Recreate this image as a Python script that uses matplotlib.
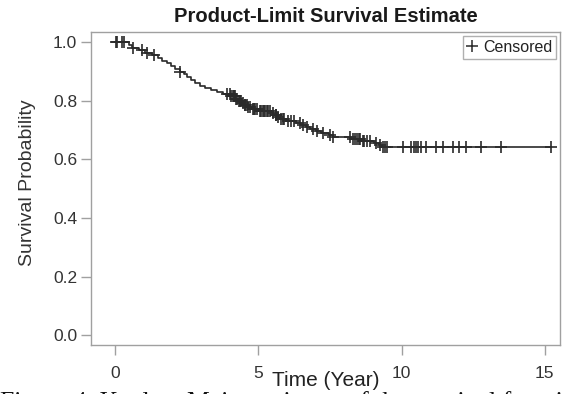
import numpy as np
import matplotlib
matplotlib.use("Agg")
import matplotlib.pyplot as plt
from matplotlib.lines import Line2D

plt.rcParams['font.family'] = ['Liberation Sans', 'DejaVu Sans']

# event times (years) and survival estimate after each event
event_t = [0.50, 0.60, 0.85, 1.05, 1.30, 1.50, 1.65, 1.80, 1.95, 2.10,
           2.25, 2.40, 2.50, 2.65, 2.80, 2.95, 3.15, 3.35, 3.55, 3.75,
           4.05, 4.20, 4.30, 4.40, 4.50, 4.62, 4.75, 5.00, 5.45, 5.55,
           5.65, 5.75, 5.95, 6.30, 6.50, 6.65, 6.80, 7.00, 7.20, 7.45,
           7.60, 8.25, 8.60, 9.05, 9.20, 9.30]
event_s = [0.990, 0.980, 0.972, 0.963, 0.955, 0.946, 0.937, 0.928, 0.918, 0.909,
           0.900, 0.890, 0.880, 0.870, 0.860, 0.852, 0.845, 0.838, 0.830, 0.822,
           0.815, 0.808, 0.800, 0.793, 0.786, 0.779, 0.772, 0.766, 0.759, 0.752,
           0.745, 0.738, 0.731, 0.724, 0.717, 0.710, 0.703, 0.696, 0.689, 0.682,
           0.676, 0.670, 0.664, 0.657, 0.650, 0.644]

# censored times (years)
censor_t = [0.02, 0.08, 0.25, 0.30, 0.62, 0.93, 1.10, 1.36, 2.27,
            3.90, 4.00, 4.05, 4.10, 4.15, 4.18, 4.22, 4.25, 4.32, 4.35, 4.38,
            4.45, 4.52, 4.55, 4.60, 4.65, 4.70, 4.80, 4.85, 4.90, 4.95,
            5.05, 5.10, 5.15, 5.20, 5.25, 5.30, 5.35, 5.40, 5.50, 5.60,
            5.62, 5.70, 5.80, 5.85, 5.90, 6.05, 6.15, 6.25, 6.45, 6.55,
            6.69, 6.90, 7.04, 7.25, 7.49, 7.60, 8.19, 8.30, 8.36, 8.45,
            8.50, 8.55, 8.65, 8.70, 8.80, 8.90, 9.10, 9.25, 9.35, 9.42,
            9.49, 10.05, 10.34, 10.45, 10.51, 10.57, 10.69, 10.86, 11.21, 11.44,
            11.79, 12.02, 12.25, 12.78, 13.47, 15.23]

xticks = [0, 5, 10, 15]
yticks = [0.0, 0.2, 0.4, 0.6, 0.8, 1.0]

fig = plt.figure(figsize=(5.63, 3.94), dpi=100)
ax = fig.add_axes([91/563, 49/394, 469/563, 313/394])

t_all = np.array([0.0] + event_t + [censor_t[-1]])
s_all = np.array([1.0] + event_s + [event_s[-1]])
ax.step(t_all, s_all, where='post', color='#2a2a2a', lw=1.2, zorder=3)

# survival at censoring times from the step function
ct = np.array(censor_t)
idx = np.searchsorted(t_all[:-1], ct, side='right') - 1
ax.plot(ct, s_all[idx], ls='none', marker='+', ms=8, mew=1.2,
        color='#2a2a2a', zorder=4)

ax.set_xlim(-0.84, 15.53)
ax.set_ylim(-0.033, 1.035)
ax.set_xticks(xticks)
ax.set_yticks(yticks)
ax.set_yticklabels([f"{v:.1f}" for v in yticks])

for sp in ax.spines.values():
    sp.set_color('#a0a0a0')
    sp.set_linewidth(1.0)
ax.tick_params(axis='both', colors='#a0a0a0', labelcolor='#333333',
               labelsize=12.5, length=7, width=1.0, direction='out')
ax.tick_params(axis='x', pad=8)
ax.tick_params(axis='y', pad=3)

ax.set_title('Product-Limit Survival Estimate', fontsize=14.5,
             fontweight='bold', color='#1a1a1a', pad=7)
ax.set_ylabel('Survival Probability', fontsize=14, color='#333333', labelpad=13)
ax.yaxis.set_label_coords(-0.118, 0.52)
ax.set_xlabel('Time (Year)', fontsize=15, color='#222222', labelpad=-7,
              bbox=dict(facecolor='white', edgecolor='none', pad=0.5), zorder=5)

h = Line2D([], [], ls='none', marker='+', ms=9, mew=1.1, color='#2a2a2a')
leg = ax.legend([h], ['Censored'], loc='upper right', fontsize=11.5,
                handlelength=0.7, handletextpad=0.3, borderpad=0.25,
                borderaxespad=0.25, fancybox=False, framealpha=1)
leg.get_frame().set_edgecolor('#b0b0b0')
leg.get_frame().set_linewidth(1.0)
for t in leg.get_texts():
    t.set_color('#222222')

# figure caption, cut off at the bottom of the image
fig.text(0.0, -0.038, 'Figure 4. Kaplan\u2013Meier estimate of the survival function',
         family=['Liberation Serif', 'DejaVu Serif'], fontsize=18.5,
         color='#111111', ha='left', va='baseline', zorder=1)

fig.savefig('out.png', dpi=100)
